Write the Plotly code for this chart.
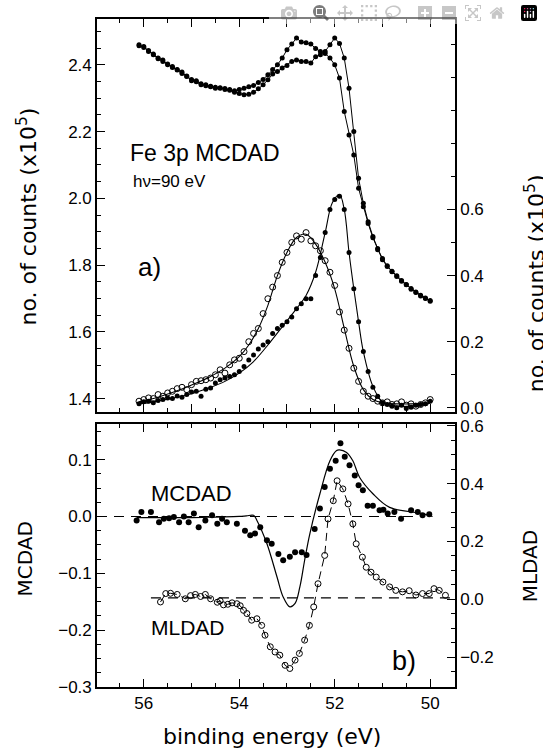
import plotly.graph_objects as go

# ---------------- data ----------------
E_CNT = [56.1, 56.0, 55.9, 55.8, 55.7, 55.6, 55.5, 55.4, 55.3, 55.2, 55.1, 55.0,
         54.9, 54.8, 54.7, 54.6, 54.5, 54.4, 54.3, 54.2, 54.1, 54.0, 53.9, 53.8,
         53.7, 53.6, 53.5, 53.4, 53.3, 53.2, 53.1, 53.0, 52.9, 52.8, 52.7, 52.6,
         52.5, 52.4, 52.3, 52.2, 52.1, 52.0, 51.9, 51.8, 51.7, 51.6, 51.5, 51.4,
         51.3, 51.2, 51.1, 51.0, 50.9, 50.8, 50.7, 50.6, 50.5, 50.4, 50.3, 50.2,
         50.1, 50.0]

# raw spectra (left axis, x10^5 counts)
CNT_A = [2.457, 2.455, 2.440, 2.432, 2.420, 2.414, 2.400, 2.395, 2.386, 2.378, 2.365, 2.356,
         2.352, 2.343, 2.340, 2.334, 2.333, 2.330, 2.329, 2.326, 2.322, 2.326, 2.330, 2.334,
         2.338, 2.347, 2.356, 2.370, 2.386, 2.400, 2.420, 2.445, 2.462, 2.480, 2.468, 2.466,
         2.462, 2.449, 2.440, 2.434, 2.420, 2.400, 2.360, 2.260, 2.190, 2.130, 2.030, 1.975,
         1.925, 1.882, 1.846, 1.816, 1.796, 1.780, 1.766, 1.752, 1.741, 1.728, 1.718, 1.708,
         1.700, 1.692]
CNT_B = [2.460, 2.452, 2.443, 2.430, 2.418, 2.410, 2.402, 2.392, 2.384, 2.374, 2.366, 2.352,
         2.349, 2.340, 2.337, 2.336, 2.330, 2.331, 2.326, 2.324, 2.318, 2.314, 2.310, 2.312,
         2.318, 2.328, 2.340, 2.355, 2.372, 2.380, 2.390, 2.398, 2.410, 2.414, 2.410, 2.410,
         2.405, 2.424, 2.430, 2.440, 2.460, 2.480, 2.464, 2.420, 2.330, 2.200, 2.060, 1.985,
         1.930, 1.886, 1.850, 1.820, 1.798, 1.782, 1.768, 1.754, 1.742, 1.730, 1.720, 1.710,
         1.702, 1.694]

# background-subtracted spectra (right axis, x10^5 counts)
SUB_OPEN = [0.020, 0.025, 0.030, 0.028, 0.040, 0.035, 0.045, 0.050, 0.058, 0.062, 0.055, 0.070,
            0.080, 0.082, 0.085, 0.090, 0.100, 0.115, 0.105, 0.130, 0.145, 0.150, 0.170, 0.200,
            0.225, 0.240, 0.285, 0.330, 0.365, 0.400, 0.440, 0.470, 0.500, 0.520, 0.510, 0.530,
            0.505, 0.490, 0.475, 0.445, 0.410, 0.370, 0.290, 0.235, 0.180, 0.120, 0.080, 0.050,
            0.035, 0.028, 0.020, 0.015, 0.018, 0.010, 0.012, 0.018, 0.008, 0.012, 0.005, 0.010,
            0.015, 0.025]
SUB_FILL = [0.012, 0.018, 0.020, 0.015, 0.022, 0.025, 0.030, 0.028, 0.036, 0.032, 0.040, 0.048,
            0.050, 0.035, 0.056, 0.060, 0.075, 0.085, 0.090, 0.095, 0.100, 0.110, 0.125, 0.145,
            0.160, 0.178, 0.190, 0.200, 0.225, 0.240, 0.250, 0.260, 0.275, 0.300, 0.315, 0.330,
            0.330, 0.400, 0.455, 0.530, 0.600, 0.630, 0.640, 0.600, 0.470, 0.360, 0.260, 0.170,
            0.110, 0.062, 0.035, 0.015, 0.010, 0.005, 0.000, 0.008, -0.002, 0.002, 0.008, 0.010,
            0.012, 0.020]

# smooth fit curves through the subtracted spectra
FIT_OPEN_E = [56.1, 55.8, 55.5, 55.2, 54.9, 54.6, 54.3, 54.0, 53.8, 53.6, 53.4, 53.2, 53.0,
              52.8, 52.6, 52.4, 52.2, 52.0, 51.8, 51.6, 51.4, 51.2, 51.0, 50.7, 50.4, 50.0]
FIT_OPEN = [0.018, 0.028, 0.042, 0.057, 0.075, 0.095, 0.120, 0.155, 0.190, 0.240, 0.310, 0.400,
            0.470, 0.515, 0.525, 0.495, 0.440, 0.360, 0.240, 0.125, 0.055, 0.025, 0.015, 0.012,
            0.012, 0.015]
FIT_FILL_E = [56.1, 55.8, 55.5, 55.2, 54.9, 54.6, 54.3, 54.0, 53.7, 53.4, 53.1, 52.8, 52.6,
              52.4, 52.2, 52.05, 51.9, 51.8, 51.7, 51.6, 51.5, 51.4, 51.2, 51.0, 50.7, 50.4, 50.0]
FIT_FILL = [0.012, 0.018, 0.026, 0.035, 0.047, 0.062, 0.080, 0.105, 0.140, 0.190, 0.245, 0.300,
            0.340, 0.410, 0.530, 0.620, 0.645, 0.600, 0.470, 0.360, 0.260, 0.170, 0.065, 0.018,
            0.005, 0.005, 0.015]

# MCDAD (left axis, lower panel)
MCDAD_E = [56.15, 56.05, 55.85, 55.68, 55.58, 55.47, 55.37, 55.26, 55.16, 55.06, 54.95, 54.85,
           54.71, 54.57, 54.46, 54.36, 54.26, 54.05, 53.88, 53.77, 53.67, 53.56, 53.42, 53.32,
           53.18, 53.08, 52.94, 52.83, 52.69, 52.59, 52.42, 52.31, 52.21, 52.10, 51.98, 51.88,
           51.79, 51.69, 51.58, 51.50, 51.41, 51.31, 51.20, 51.06, 50.98, 50.89, 50.75, 50.61,
           50.40, 50.26, 50.16, 50.02]
MCDAD = [-0.007, 0.008, 0.008, -0.010, -0.004, -0.003, -0.001, -0.010, 0.000, -0.010, 0.005, -0.019,
         -0.007, 0.002, -0.013, -0.004, -0.010, -0.013, -0.025, -0.033, -0.030, -0.019, -0.042, -0.048,
         -0.066, -0.077, -0.071, -0.063, -0.063, -0.068, -0.022, 0.014, 0.052, 0.084, 0.098, 0.129,
         0.105, 0.090, 0.072, 0.055, 0.046, 0.019, 0.019, 0.011, 0.012, 0.005, 0.008, -0.004,
         0.011, 0.008, 0.002, 0.004]

# MCDAD calculation (solid line)
CALC_E = [56.15, 55.5, 55.0, 54.5, 54.0, 53.85, 53.70, 53.63, 53.42, 53.21, 53.08, 52.94, 52.83,
          52.73, 52.63, 52.52, 52.31, 52.10, 51.96, 51.90, 51.76, 51.62, 51.48, 51.20, 50.85,
          50.16, 49.95]
CALC = [-0.002, -0.002, -0.002, -0.001, 0.000, 0.001, 0.002, -0.007, -0.048, -0.106, -0.1415, -0.159,
        -0.153, -0.124, -0.077, -0.030, 0.040, 0.098, 0.116, 0.117, 0.113, 0.098, 0.069, 0.040,
        0.016, 0.005, 0.000]

# MLDAD (right axis, lower panel)
MLDAD_E = [55.65, 55.54, 55.44, 55.30, 55.13, 55.02, 54.92, 54.81, 54.71, 54.60, 54.46, 54.40,
           54.33, 54.24, 54.15, 54.05, 53.98, 53.91, 53.84, 53.74, 53.63, 53.53, 53.46, 53.35,
           53.25, 53.15, 53.04, 52.94, 52.83, 52.74, 52.63, 52.53, 52.44, 52.35, 52.21, 52.14,
           52.03, 51.95, 51.83, 51.72, 51.62, 51.55, 51.42, 51.34, 51.24, 51.13, 50.99, 50.85,
           50.72, 50.58, 50.44, 50.30, 50.16, 50.02, 49.92, 49.81, 49.68]
MLDAD = [-0.009, 0.020, 0.021, 0.017, 0.002, 0.013, 0.017, 0.010, 0.017, 0.002, -0.010, -0.005,
         -0.019, -0.017, -0.012, -0.015, -0.022, -0.038, -0.049, -0.072, -0.067, -0.090, -0.124, -0.164,
         -0.182, -0.193, -0.228, -0.239, -0.210, -0.187, -0.141, -0.090, -0.026, 0.054, 0.152, 0.278,
         0.341, 0.410, 0.382, 0.330, 0.261, 0.192, 0.146, 0.111, 0.094, 0.077, 0.060, 0.043,
         0.031, 0.026, 0.030, 0.015, 0.020, 0.020, 0.037, 0.031, 0.014]

# dashed zero lines
ZERO_MCDAD_E = [56.98, 50.2]
ZERO_MCDAD = [0.0, 0.0]
ZERO_MLDAD_E = [55.85, 49.55]
ZERO_MLDAD = [0.005, 0.005]

# ---------------- figure ----------------
TICK_FONT = dict(family="Liberation Sans, Arial, sans-serif", size=17, color="black")
TITLE_FAMILY = "DejaVu Sans, sans-serif"
NARROW = "Liberation Sans Narrow, Arial Narrow, Liberation Sans, sans-serif"

mk_f = dict(symbol="circle", size=5, color="black")
mk_o = dict(symbol="circle-open", size=6, color="black", line=dict(width=1, color="black"))
ln = dict(color="black", width=1)

fig = go.Figure()

# upper panel
fig.add_trace(go.Scatter(x=E_CNT, y=CNT_A, xaxis="x2", yaxis="y", mode="lines+markers",
                         line=ln, marker=mk_f))
fig.add_trace(go.Scatter(x=E_CNT, y=CNT_B, xaxis="x2", yaxis="y", mode="lines+markers",
                         line=ln, marker=mk_f))
fig.add_trace(go.Scatter(x=FIT_OPEN_E, y=FIT_OPEN, xaxis="x2", yaxis="y2", mode="lines",
                         line=dict(color="black", width=1.1, shape="spline")))
fig.add_trace(go.Scatter(x=FIT_FILL_E, y=FIT_FILL, xaxis="x2", yaxis="y2", mode="lines",
                         line=dict(color="black", width=1.1, shape="spline")))
fig.add_trace(go.Scatter(x=E_CNT, y=SUB_OPEN, xaxis="x2", yaxis="y2", mode="markers",
                         marker=mk_o))
fig.add_trace(go.Scatter(x=E_CNT, y=SUB_FILL, xaxis="x2", yaxis="y2", mode="markers",
                         marker=mk_f))

# lower panel
fig.add_trace(go.Scatter(x=ZERO_MCDAD_E, y=ZERO_MCDAD, xaxis="x", yaxis="y3", mode="lines",
                         line=dict(color="black", width=1.1, dash="10px,7px")))
fig.add_trace(go.Scatter(x=ZERO_MLDAD_E, y=ZERO_MLDAD, xaxis="x", yaxis="y4", mode="lines",
                         line=dict(color="black", width=1.1, dash="10px,7px")))
fig.add_trace(go.Scatter(x=CALC_E, y=CALC, xaxis="x", yaxis="y3", mode="lines",
                         line=dict(color="black", width=1.2, shape="spline")))
fig.add_trace(go.Scatter(x=MCDAD_E, y=MCDAD, xaxis="x", yaxis="y3", mode="markers",
                         marker=dict(symbol="circle", size=6, color="black")))
fig.add_trace(go.Scatter(x=MLDAD_E, y=MLDAD, xaxis="x", yaxis="y4", mode="lines+markers",
                         line=dict(color="black", width=1, dash="8px,5px"), marker=mk_o))

axis_common = dict(showline=True, linewidth=1.6, linecolor="black", ticks="inside",
                   tickcolor="black", tickwidth=1.2, ticklen=8, showgrid=False,
                   zeroline=False, tickfont=TICK_FONT)

X_RANGE = [56.98, 49.48]
xminor = dict(dtick=0.5, tick0=50, ticks="inside", ticklen=4, tickcolor="black", tickwidth=1)

fig.update_layout(
    width=543, height=750,
    margin=dict(l=97, r=88, t=17, b=63),
    paper_bgcolor="white", plot_bgcolor="white",
    showlegend=False,
    xaxis=dict(axis_common, domain=[0, 1], anchor="y3", range=X_RANGE, mirror="ticks",
               tickmode="linear", tick0=50, dtick=2, minor=xminor),
    xaxis2=dict(axis_common, domain=[0, 1], anchor="y", range=X_RANGE, mirror="ticks",
                matches="x", tickmode="linear", tick0=50, dtick=1, showticklabels=False,
                minor=xminor),
    yaxis=dict(axis_common, domain=[0.412, 1.0], anchor="x2", range=[1.361, 2.537],
               tickmode="linear", tick0=1.4, dtick=0.2, tickformat=".1f",
               minor=dict(dtick=0.05, ticks="inside", ticklen=4, tickcolor="black", tickwidth=1)),
    yaxis2=dict(axis_common, overlaying="y", side="right", anchor="x2", range=[-0.012, 1.176],
                tickmode="array", tickvals=[0.0, 0.2, 0.4, 0.6], tickformat=".1f",
                minor=dict(tickmode="array", tickvals=[0.1, 0.3, 0.5, 0.7, 0.8, 0.9, 1.0, 1.1],
                           ticks="inside", ticklen=4, tickcolor="black", tickwidth=1)),
    yaxis3=dict(axis_common, domain=[0.0, 0.394], anchor="x", range=[-0.3, 0.163],
                tickmode="linear", tick0=0, dtick=0.1, tickformat=".1f",
                minor=dict(dtick=0.025, ticks="inside", ticklen=4, tickcolor="black", tickwidth=1)),
    yaxis4=dict(axis_common, overlaying="y3", side="right", anchor="x", range=[-0.303, 0.607],
                tickmode="linear", tick0=0, dtick=0.2, tickformat=".1f",
                minor=dict(dtick=0.05, ticks="inside", ticklen=4, tickcolor="black", tickwidth=1)),
)

ann = []
def A(text, x, y, xref, yref, size, family, angle=0, xanchor="left"):
    ann.append(dict(text=text, x=x, y=y, xref=xref, yref=yref, showarrow=False,
                    xanchor=xanchor, yanchor="middle", textangle=angle,
                    font=dict(family=family, size=size, color="black")))

# in-plot labels
A("Fe 3p MCDAD", 56.33, 2.137, "x2", "y", 23, NARROW)
A("hν=90 eV", 56.27, 2.051, "x2", "y", 17, NARROW)
A("a)", 56.17, 1.794, "x2", "y", 26, "Liberation Sans, sans-serif")
A("MCDAD", 55.9, 0.040, "x", "y3", 22, "Liberation Sans, sans-serif")
A("MLDAD", 55.9, -0.195, "x", "y3", 21, "Liberation Sans, sans-serif")
A("b)", 50.85, -0.254, "x", "y3", 27, "Liberation Sans, sans-serif")

# axis titles (paper coordinates)
A("no. of counts (x10<sup>5</sup>)", -0.1955, 0.7045, "paper", "paper", 22, TITLE_FAMILY, -90, "center")
A("no. of counts (x10<sup>5</sup>)", 1.2235, 0.6045, "paper", "paper", 22, TITLE_FAMILY, -90, "center")
A("MCDAD", -0.201, 0.191, "paper", "paper", 20, TITLE_FAMILY, -90, "center")
A("MLDAD", 1.2095, 0.1806, "paper", "paper", 20, TITLE_FAMILY, -90, "center")
A("binding energy (eV)", 0.4888, -0.0746, "paper", "paper", 22, TITLE_FAMILY, 0, "center")

fig.update_layout(annotations=ann)
fig.write_html("out.html",
               post_script="document.body.style.margin='0px';document.body.style.overflow='hidden';")
